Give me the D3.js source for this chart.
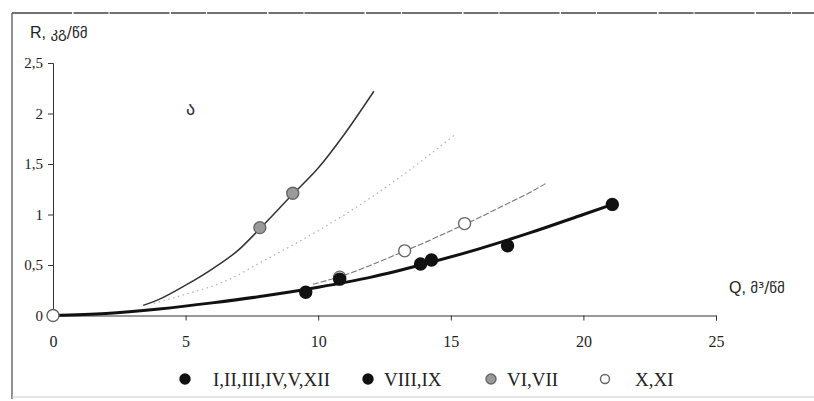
<!DOCTYPE html>
<html>
<head>
<meta charset="utf-8">
<script src="https://cdn.jsdelivr.net/npm/d3@7"></script>
<style>
    body { margin: 0; background: #fff; }
    .tick text { font-family: "Liberation Serif", serif; fill: #222; }
    .domain, .tick line { stroke: #333; }
</style>
</head>
<body>
<div id="chart"></div>
<script>

// curve readings [Q, R]
const thickCurve = [[0, 0], [2, 0.02], [4, 0.065], [6, 0.125], [8, 0.195], [10, 0.28], [12, 0.38],
    [14, 0.51], [16, 0.655], [18, 0.82], [20, 1.0], [21.1, 1.1]];
const thinCurve = [[3.4, 0.1], [4, 0.16], [5, 0.3], [6, 0.46], [7, 0.65], [7.8, 0.86], [9, 1.19],
    [10, 1.46], [11, 1.8], [12.1, 2.22]];
const dashedCurve = [[9.8, 0.31], [11, 0.4], [12, 0.5], [13, 0.61], [14, 0.72], [15, 0.84],
    [16, 0.96], [17, 1.09], [18, 1.22], [18.6, 1.31]];
const dottedCurve = [[3.8, 0.12], [5, 0.21], [6.5, 0.34], [8, 0.55], [10, 0.84], [12, 1.17],
    [14, 1.55], [15.2, 1.8]];

// points [Q, R]
const monthsA = [[9.53, 0.23], [10.81, 0.36], [13.86, 0.51], [21.09, 1.1]];
const monthsB = [[14.27, 0.55], [17.14, 0.69]];
const monthsC = [[7.8, 0.87], [9.04, 1.21]];
const monthsD = [[0, 0], [10.81, 0.38], [13.26, 0.64], [15.52, 0.91]];

const legendLabels = ["I,II,III,IV,V,XII", "VIII,IX", "VI,VII", "X,XI"];
const xTicks = [0, 5, 10, 15, 20, 25];
const yTicks = [0, 0.5, 1, 1.5, 2, 2.5];

const fmt = d => String(d).replace(".", ",");

const styles = [
    { fill: "#111", stroke: "#111" },
    { fill: "#111", stroke: "#111" },
    { fill: "#9a9a9a", stroke: "#666" },
    { fill: "#fff", stroke: "#666" }
];

const svg = d3.select("#chart")
    .append("svg")
        .attr("width", 814)
        .attr("height", 401);

svg.append("rect")
    .attr("width", 814)
    .attr("height", 401)
    .attr("fill", "#fff");

// scanned frame
svg.append("line")
    .attr("x1", 12).attr("x2", 814)
    .attr("y1", 13).attr("y2", 13)
    .attr("stroke", "#444")
    .attr("stroke-width", 1.6)
    .attr("stroke-dasharray", "60,1.5,35,1");
svg.append("line")
    .attr("x1", 12).attr("x2", 12)
    .attr("y1", 13).attr("y2", 399)
    .attr("stroke", "#555")
    .attr("stroke-width", 1.3);
svg.append("line")
    .attr("x1", 12).attr("x2", 814)
    .attr("y1", 397).attr("y2", 397)
    .attr("stroke", "#ccc")
    .attr("stroke-width", 1);

const x = d3.scaleLinear()
    .domain([0, 25])
    .range([53, 716]);

const y = d3.scaleLinear()
    .domain([0, 2.5])
    .range([315.5, 63]);

svg.append("g")
    .attr("transform", `translate(0, ${y(0)})`)
    .call(d3.axisBottom(x)
        .tickValues(xTicks)
        .tickSize(5)
        .tickPadding(15)
        .tickFormat(fmt))
    .call(g => g.selectAll("text").attr("font-size", 16))
    .call(g => g.selectAll(".tick").filter(d => d === 0).select("line").remove());

svg.append("g")
    .attr("transform", `translate(${x(0)}, 0)`)
    .call(d3.axisLeft(y)
        .tickValues(yTicks)
        .tickSize(5)
        .tickPadding(5)
        .tickFormat(fmt))
    .call(g => g.selectAll("text").attr("font-size", 15))
    .call(g => g.selectAll(".tick").filter(d => d === 0).select("line").remove());

const line = d3.line()
    .x(d => x(d[0]))
    .y(d => y(d[1]))
    .curve(d3.curveMonotoneX);

svg.append("path")
    .attr("d", line(dottedCurve))
    .attr("fill", "none")
    .attr("stroke", "#b0b0b0")
    .attr("stroke-width", 1.2)
    .attr("stroke-dasharray", "1.5,3.5");

svg.append("path")
    .attr("d", line(dashedCurve))
    .attr("fill", "none")
    .attr("stroke", "#777")
    .attr("stroke-width", 1.1)
    .attr("stroke-dasharray", "6,2");

svg.append("path")
    .attr("d", line(thinCurve))
    .attr("fill", "none")
    .attr("stroke", "#333")
    .attr("stroke-width", 1.5);

svg.append("path")
    .attr("d", line(thickCurve))
    .attr("fill", "none")
    .attr("stroke", "#111")
    .attr("stroke-width", 3);

const groups = [monthsD, monthsC, monthsB, monthsA];
const groupStyle = [styles[3], styles[2], styles[1], styles[0]];

groups.forEach((pts, i) => {
    svg.append("g")
        .selectAll("circle")
        .data(pts)
        .enter()
        .append("circle")
            .attr("cx", d => x(d[0]))
            .attr("cy", d => y(d[1]))
            .attr("r", 6)
            .attr("fill", groupStyle[i].fill)
            .attr("stroke", groupStyle[i].stroke)
            .attr("stroke-width", 1.4);
});

// axis titles
const rTitle = svg.append("text")
    .attr("x", 30)
    .attr("y", 38)
    .attr("fill", "#222");
rTitle.append("tspan")
    .attr("font-family", "'Liberation Sans', sans-serif")
    .attr("font-size", 16)
    .text("R, ");
rTitle.append("tspan")
    .attr("font-family", "'DejaVu Sans', sans-serif")
    .attr("font-size", 15)
    .text("კგ/წმ");

const qTitle = svg.append("text")
    .attr("x", 729)
    .attr("y", 293)
    .attr("fill", "#222");
qTitle.append("tspan")
    .attr("font-family", "'Liberation Sans', sans-serif")
    .attr("font-size", 16)
    .text("Q, ");
qTitle.append("tspan")
    .attr("font-family", "'DejaVu Sans', sans-serif")
    .attr("font-size", 15)
    .text("მ³/წმ");

svg.append("text")
    .attr("x", 186)
    .attr("y", 115)
    .attr("font-family", "'DejaVu Sans', sans-serif")
    .attr("font-size", 18)
    .attr("fill", "#333")
    .text("ა");

// legend
const legendX = [185, 368, 491, 605];
const legend = svg.append("g")
    .selectAll("g")
    .data(legendLabels)
    .enter()
    .append("g")
        .attr("transform", (d, i) => `translate(${legendX[i]}, 379)`);

legend.append("circle")
    .attr("r", (d, i) => i === 3 ? 4.5 : 5)
    .attr("fill", (d, i) => styles[i].fill)
    .attr("stroke", (d, i) => styles[i].stroke)
    .attr("stroke-width", 1.4);

legend.append("text")
    .attr("x", (d, i) => i === 0 ? 28 : i === 3 ? 30 : 16)
    .attr("dy", "0.35em")
    .attr("font-family", "'Liberation Serif', serif")
    .attr("font-size", 19)
    .attr("fill", "#222")
    .text(d => d);

</script>
</body>
</html>
